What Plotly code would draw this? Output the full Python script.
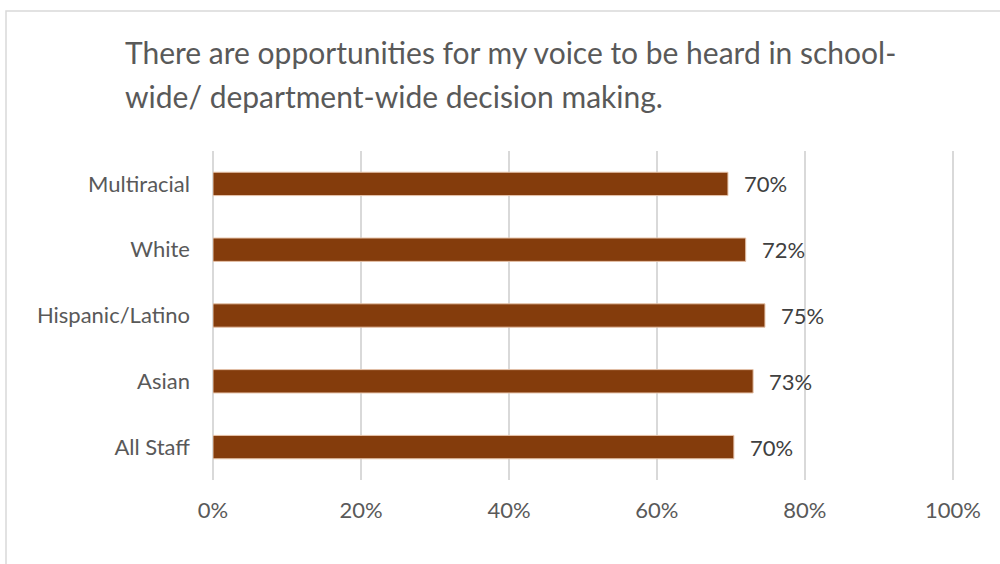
import plotly.graph_objects as go

categories = ["All Staff", "Asian", "Hispanic/Latino", "White", "Multiracial"]
values = [0.704, 0.730, 0.746, 0.720, 0.696]
x_ticks = [0, 0.2, 0.4, 0.6, 0.8, 1.0]
title_lines = [
    "There are opportunities for my voice to be heard in school-",
    "wide/ department-wide decision making.",
]

W, H = 1000, 564
L, R, T, B = 213, 46, 151, 84
pw, ph = W - L - R, H - T - B

def px_x(px):
    return (px - L) / pw

def px_y(py):
    return 1 - (py - T) / ph

FONT = "Lato"
BAR = "#843C0C"

fig = go.Figure()
fig.add_trace(go.Bar(
    x=values, y=categories, orientation="h",
    marker=dict(color=BAR, line=dict(color="#E6C3AA", width=1)),
    width=0.355, hoverinfo="skip",
))

annotations = []
for v, c in zip(values, categories):
    annotations.append(dict(
        x=v, y=c, xref="x", yref="y", text=f"{round(v*100)}%",
        showarrow=False, xanchor="left", yanchor="middle", xshift=14,
        font=dict(family=FONT, size=22, color="#404040"),
    ))
for i, line in enumerate(title_lines):
    annotations.append(dict(
        x=px_x(123), y=px_y(52 + 44.5 * i), xref="paper", yref="paper",
        text=line, showarrow=False, xanchor="left", yanchor="middle",
        font=dict(family=FONT, size=30, color="#595959"),
    ))

fig.update_layout(
    width=W, height=H,
    margin=dict(l=L, r=R, t=T, b=B, pad=0),
    paper_bgcolor="white", plot_bgcolor="white",
    showlegend=False,
    annotations=annotations,
    shapes=[dict(
        type="rect", xref="paper", yref="paper",
        x0=px_x(6), x1=px_x(1010), y0=px_y(580), y1=px_y(11),
        line=dict(color="#D9D9D9", width=1.5), fillcolor="rgba(0,0,0,0)",
        layer="below",
    )],
    xaxis=dict(
        range=[0, 1.0015], tickvals=x_ticks, tickformat=".0%",
        showgrid=True, gridcolor="#D9D9D9", gridwidth=1.5,
        zeroline=True, zerolinecolor="#D9D9D9", zerolinewidth=1.5,
        showline=False, ticks="", ticklabelstandoff=15,
        tickfont=dict(family=FONT, size=22, color="#595959"),
        fixedrange=True,
    ),
    yaxis=dict(
        categoryorder="array", categoryarray=categories,
        showgrid=False, zeroline=False, showline=False, ticks="",
        ticklabelstandoff=22,
        tickfont=dict(family=FONT, size=22, color="#595959"),
        fixedrange=True,
    ),
)

fig.write_html("out.html")
